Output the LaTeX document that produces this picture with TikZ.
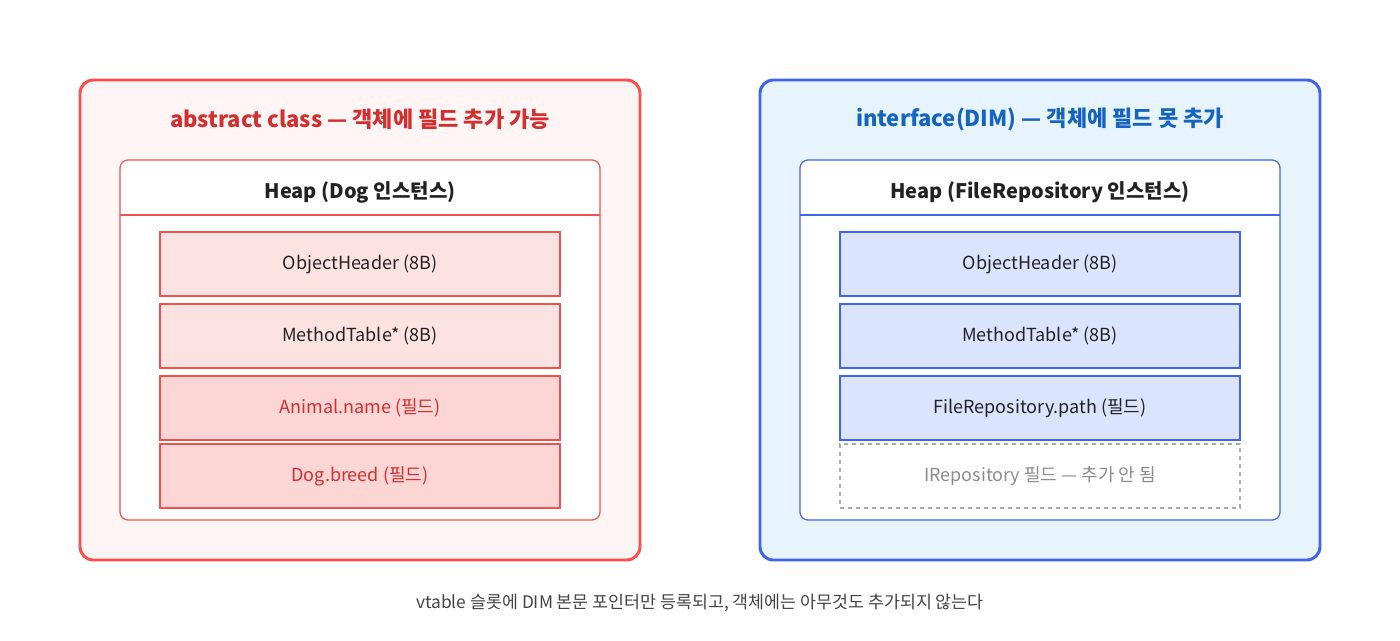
\documentclass[tikz,border=0pt]{standalone}
\usepackage{fontspec}
\setmainfont{Noto Sans CJK KR}
\begin{document}
\begin{tikzpicture}[x=0.75pt,y=-0.75pt,
 outerL/.style={draw=red!70!white,line width=2.2pt,fill={rgb,255:red,255;green,245;blue,245},rounded corners=10pt},
 outerR/.style={draw={rgb,255:red,66;green,99;blue,235},line width=2.2pt,fill={rgb,255:red,232;green,244;blue,253},rounded corners=10pt},
 heapL/.style={draw={rgb,255:red,239;green,83;blue,80},line width=0.9pt,fill=white,rounded corners=6pt},
 heapR/.style={draw={rgb,255:red,66;green,99;blue,235},line width=0.9pt,fill=white,rounded corners=6pt},
 rowA/.style={draw={rgb,255:red,239;green,83;blue,80},line width=0.9pt,fill={rgb,255:red,253;green,226;blue,226},minimum width=300pt,minimum height=48pt,inner sep=0pt,font=\fontsize{13.5}{16}\selectfont,text={rgb,255:red,34;green,34;blue,34}},
 rowB/.style={rowA,fill={rgb,255:red,252;green,213;blue,213},text={rgb,255:red,211;green,47;blue,47}},
 rowC/.style={rowA,draw={rgb,255:red,66;green,99;blue,235},fill={rgb,255:red,219;green,228;blue,255}},
 rowD/.style={rowA,draw={rgb,255:red,170;green,170;blue,170},dashed,fill=none,text={rgb,255:red,140;green,140;blue,140}},
 ttl/.style={font=\bfseries\fontsize{16.5}{20}\selectfont},
 hp/.style={font=\bfseries\fontsize{15}{18}\selectfont,text={rgb,255:red,34;green,34;blue,34}}]
\useasboundingbox (0,0) rectangle (1400,640);
\path[outerL] (80,80) rectangle (640,560);
\path[outerR] (760,80) rectangle (1320,560);
\node[ttl,text={rgb,255:red,211;green,47;blue,47}] (tl) at (360,119) {abstract class — 객체에 필드 추가 가능};
\node[ttl,text={rgb,255:red,21;green,101;blue,192}] (tr) at (1040,119) {interface(DIM) — 객체에 필드 못 추가};
\path[heapL] (120,160) rectangle (600,520);
\draw[draw={rgb,255:red,239;green,83;blue,80},line width=0.9pt] (120,215) -- (600,215);
\path[heapR] (800,160) rectangle (1280,520);
\draw[draw={rgb,255:red,66;green,99;blue,235},line width=0.9pt] (800,215) -- (1280,215);
\node[hp] (hl) at (360,192) {Heap (Dog 인스턴스)};
\node[hp] (hr) at (1040,192) {Heap (FileRepository 인스턴스)};
\node[rowA] (l1) at (360,264) {ObjectHeader (8B)};
\node[rowA] (l2) at (360,336) {MethodTable* (8B)};
\node[rowB] (l3) at (360,408) {Animal.name (필드)};
\node[rowB] (l4) at (360,476) {Dog.breed (필드)};
\node[rowC] (r1) at (1040,264) {ObjectHeader (8B)};
\node[rowC] (r2) at (1040,336) {MethodTable* (8B)};
\node[rowC] (r3) at (1040,408) {FileRepository.path (필드)};
\node[rowD] (r4) at (1040,476) {IRepository 필드 — 추가 안 됨};
\node[font=\fontsize{13}{16}\selectfont,text={rgb,255:red,68;green,68;blue,68}] (cap) at (700,603) {vtable 슬롯에 DIM 본문 포인터만 등록되고, 객체에는 아무것도 추가되지 않는다};
\end{tikzpicture}
\end{document}
